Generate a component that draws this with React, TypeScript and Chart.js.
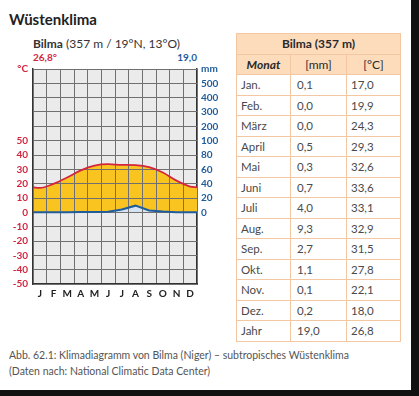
import React, { useEffect, useRef } from "react";
import { Chart, registerables } from "chart.js";

const MONTHS = ["J", "F", "M", "A", "M", "J", "J", "A", "S", "O", "N", "D"];
const MONTH_NAMES = ["Jan.", "Feb.", "März", "April", "Mai", "Juni", "Juli", "Aug.", "Sep.", "Okt.", "Nov.", "Dez."];
const PRECIP = [0.1, 0.0, 0.0, 0.5, 0.3, 0.7, 4.0, 9.3, 2.7, 1.1, 0.1, 0.2];
const TEMP = [17.0, 19.9, 24.3, 29.3, 32.6, 33.6, 33.1, 32.9, 31.5, 27.8, 22.1, 18.0];
const YEAR_PRECIP = 19.0;
const YEAR_TEMP = 26.8;
const TEMP_TICKS = [-50, -40, -30, -20, -10, 0, 10, 20, 30, 40, 50];

const RED = "#d3263e";
const BLUE = "#1f5c9c";
const YELLOW = "#f9c320";

const de = (v: number) => v.toFixed(1).replace(".", ",");
// precipitation on the temperature scale: 1 °C = 2 mm up to 100 mm, above that 1 °C = 10 mm
const mmToScale = (mm: number) => (mm <= 100 ? mm / 2 : 50 + (mm - 100) / 10);
const scaleToMm = (v: number) => (v <= 50 ? v * 2 : 100 + (v - 50) * 10);

Chart.register(...registerables);

const plotBg = {
  id: "plotBg",
  beforeDraw(chart: any) {
    const { ctx, chartArea: a } = chart;
    if (!a) return;
    ctx.save();
    ctx.fillStyle = "#ebebeb";
    ctx.fillRect(a.left, a.top, a.right - a.left, a.bottom - a.top);
    ctx.restore();
  },
};
// redraw the grid over the area fills (the filler paints them in beforeDatasetsDraw), under the lines
const gridOverFill = {
  id: "gridOverFill",
  beforeDatasetsDraw(chart: any) {
    const a = chart.chartArea;
    chart.scales.x.drawGrid(a);
    chart.scales.y.drawGrid(a);
  },
};

function buildSeries(values: number[], map: (v: number) => number) {
  const edge = map((values[0] + values[values.length - 1]) / 2);
  const pts = [{ x: 0, y: edge }];
  values.forEach((v, i) => pts.push({ x: i + 0.5, y: map(v) }));
  pts.push({ x: values.length, y: edge });
  return pts;
}

function ClimateChart() {
  const ref = useRef<HTMLCanvasElement | null>(null);
  useEffect(() => {
    if (!ref.current) return;
    const gridColor = "#707070";
    const chart = new Chart(ref.current, {
      type: "line",
      data: {
        datasets: [
          {
            label: "Niederschlag",
            data: buildSeries(PRECIP, mmToScale),
            borderColor: BLUE,
            borderWidth: 2,
            pointRadius: 0,
            fill: "origin",
            backgroundColor: "#d5e4f0",
          },
          {
            label: "Temperatur",
            data: buildSeries(TEMP, (v) => v),
            borderColor: RED,
            borderWidth: 1.8,
            pointRadius: 0,
            cubicInterpolationMode: "monotone",
            fill: "-1",
            backgroundColor: YELLOW,
          },
        ] as any,
      },
      plugins: [plotBg as any, gridOverFill as any],
      options: {
        animation: false,
        responsive: false,
        layout: { padding: { top: 10, left: 0, right: 0, bottom: 0 } },
        plugins: {
          legend: { display: false },
          tooltip: { enabled: false },
          filler: { drawTime: "beforeDatasetsDraw" } as any,
        },
        scales: {
          x: {
            type: "linear",
            min: 0,
            max: 12,
            afterBuildTicks: (s: any) => {
              s.ticks = Array.from({ length: 25 }, (_, i) => ({ value: i / 2 }));
            },
            afterFit: (s: any) => {
              s.height = 16;
            },
            ticks: {
              autoSkip: false,
              maxRotation: 0,
              padding: 4,
              color: "#222",
              font: { family: "Lato", size: 10, weight: "bold" },
              callback: (v: any) => (Number(v) % 1 !== 0 ? MONTHS[Math.floor(Number(v))] : ""),
            },
            grid: {
              drawTicks: false,
              color: (c: any) => (c.tick && c.tick.value % 1 === 0 ? gridColor : "rgba(0,0,0,0)"),
              lineWidth: 1,
            },
            border: { color: "#333", width: 1.5 },
          },
          y: {
            type: "linear",
            position: "left",
            min: -50,
            max: 100,
            afterBuildTicks: (s: any) => {
              s.ticks = Array.from({ length: 16 }, (_, i) => ({ value: -50 + i * 10 }));
            },
            afterFit: (s: any) => {
              s.width = 33;
            },
            ticks: {
              autoSkip: false,
              padding: 5,
              color: RED,
              font: { family: "Lato", size: 10, weight: "bold" },
              callback: (v: any) => (v === 100 ? "°C" : TEMP_TICKS.includes(v) ? String(v) : ""),
            },
            grid: { drawTicks: false, color: gridColor, lineWidth: 1 },
            border: { color: "#333", width: 1.5 },
          },
          y2: {
            type: "linear",
            position: "right",
            min: -50,
            max: 100,
            afterBuildTicks: (s: any) => {
              s.ticks = Array.from({ length: 16 }, (_, i) => ({ value: -50 + i * 10 }));
            },
            afterFit: (s: any) => {
              s.width = 33;
            },
            ticks: {
              autoSkip: false,
              padding: 4,
              color: BLUE,
              font: { family: "Lato", size: 10, weight: "bold" },
              callback: (v: any) => (v === 100 ? "mm" : v >= 0 ? String(scaleToMm(v)) : ""),
            },
            grid: { display: false, drawTicks: false },
            border: { color: "#333", width: 1.5 },
          },
        },
      } as any,
    });
    return () => chart.destroy();
  }, []);
  return (
    <canvas
      ref={ref}
      width={230}
      height={242}
      style={{ position: "absolute", left: 0, top: 58, width: 230, height: 242 }}
    />
  );
}

export default function App() {
  const cellBorder = "1px solid #f2c7a2";
  const td: React.CSSProperties = {
    border: cellBorder,
    padding: "0 0 0 4px",
    fontSize: 11.5,
    color: "#4a4a4a",
    textAlign: "left",
    verticalAlign: "middle",
    whiteSpace: "nowrap",
  };
  const th: React.CSSProperties = {
    border: cellBorder,
    padding: 0,
    fontSize: 12,
    color: "#2a2a2a",
    background: "#fddcbc",
    textAlign: "center",
    verticalAlign: "middle",
  };
  const rowH = 20.5;
  return (
    <div
      style={{
        position: "absolute",
        left: 0,
        top: 0,
        width: 419,
        height: 396,
        background: "#fff",
        overflow: "hidden",
        fontFamily: "Lato, 'Open Sans', sans-serif",
      }}
    >
      <div style={{ position: "absolute", left: 9, top: 10, lineHeight: "18px", fontSize: 15, fontWeight: 700, color: "#222" }}>
        Wüstenklima
      </div>
      <div style={{ position: "absolute", left: 33, top: 37, lineHeight: "14px", fontSize: 12, color: "#333", whiteSpace: "nowrap" }}>
        <b>Bilma</b> (357 m / 19°N, 13°O)
      </div>
      <div style={{ position: "absolute", left: 33, top: 51, lineHeight: "12px", fontSize: 10, fontWeight: 700, color: RED }}>
        {de(YEAR_TEMP)}°
      </div>
      <div style={{ position: "absolute", left: 150, width: 47, textAlign: "right", top: 51, lineHeight: "12px", fontSize: 10, fontWeight: 700, color: BLUE }}>
        {de(YEAR_PRECIP)}
      </div>
      <ClimateChart />
      <table
        style={{
          position: "absolute",
          left: 236,
          top: 33,
          width: 164,
          borderCollapse: "collapse",
          tableLayout: "fixed",
        }}
      >
        <colgroup>
          <col style={{ width: 54 }} />
          <col style={{ width: 56 }} />
          <col style={{ width: 54 }} />
        </colgroup>
        <tbody>
          <tr style={{ height: rowH }}>
            <th colSpan={3} style={{ ...th, fontWeight: 700 }}>Bilma (357 m)</th>
          </tr>
          <tr style={{ height: rowH }}>
            <th style={{ ...th, fontWeight: 700, fontStyle: "italic" }}>Monat</th>
            <th style={{ ...th, fontWeight: 400 }}>[mm]</th>
            <th style={{ ...th, fontWeight: 400 }}>[°C]</th>
          </tr>
          {MONTH_NAMES.map((m, i) => (
            <tr key={m} style={{ height: rowH }}>
              <td style={td}>{m}</td>
              <td style={{ ...td, paddingLeft: 6 }}>{de(PRECIP[i])}</td>
              <td style={td}>{de(TEMP[i])}</td>
            </tr>
          ))}
          <tr style={{ height: rowH }}>
            <td style={td}>Jahr</td>
            <td style={{ ...td, paddingLeft: 6 }}>{de(YEAR_PRECIP)}</td>
            <td style={td}>{de(YEAR_TEMP)}</td>
          </tr>
        </tbody>
      </table>
      <div style={{ position: "absolute", left: 9, top: 347, lineHeight: "16px", fontSize: 10.5, color: "#555", whiteSpace: "nowrap" }}>
        Abb. 62.1: Klimadiagramm von Bilma (Niger) – subtropisches Wüstenklima
        <br />
        (Daten nach: National Climatic Data Center)
      </div>
      <div style={{ position: "absolute", left: 411, top: 0, width: 8, height: 396, background: "#111" }} />
      <div style={{ position: "absolute", left: 0, top: 390, width: 419, height: 6, background: "#111" }} />
    </div>
  );
}
